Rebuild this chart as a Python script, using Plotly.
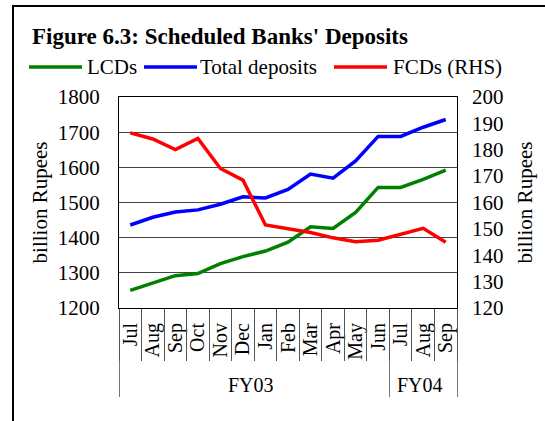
import plotly.graph_objects as go

months = ["Jul", "Aug", "Sep", "Oct", "Nov", "Dec", "Jan", "Feb", "Mar", "Apr", "May", "Jun", "Jul", "Aug", "Sep"]
fiscal_years = ["FY03"] * 12 + ["FY04"] * 3
series_names = ["LCDs", "Total deposits", "FCDs (RHS)"]
series_colors = ["#008000", "#0000ff", "#ff0000"]
lcds = [1250, 1271, 1292, 1298, 1326, 1346, 1362, 1387, 1431, 1426, 1472, 1543, 1543, 1566, 1592]
total_deposits = [1436, 1458, 1473, 1479, 1495, 1516, 1513, 1537, 1581, 1569, 1618, 1688, 1688, 1714, 1736]
fcds = [186.4, 184.1, 180.1, 184.3, 172.9, 168.5, 151.5, 150.1, 148.6, 146.6, 145.1, 145.7, 148.1, 150.2, 144.9]

FONT = "Liberation Serif"
x = [fiscal_years, months]

# plot area in pixels
L, R, T, B = 119, 457, 97, 308
PW, PH = R - L, B - T


def px(v):
    return (v - L) / PW


def py(v):
    return (B - v) / PH


fig = go.Figure()
for vals, name, col, ax in zip([lcds, total_deposits, fcds], series_names, series_colors, ["y", "y", "y2"]):
    fig.add_trace(go.Scatter(x=x, y=vals, name=name, mode="lines", yaxis=ax,
                             line=dict(color=col, width=3.5), showlegend=False))
# invisible trace carrying the boundary-tick axis
fig.add_trace(go.Scatter(x=[0], y=[1500], xaxis="x2", mode="markers",
                         marker=dict(opacity=0), showlegend=False, hoverinfo="skip"))

shapes = [dict(type="rect", xref="paper", yref="paper",
               x0=px(13), x1=px(560), y0=py(440), y1=py(6),
               line=dict(color="black", width=2), fillcolor="rgba(0,0,0,0)", layer="below")]
annotations = []
legend_x = [(29, 82, 87), (144, 197, 200), (334, 387, 393)]
for (a, b, t), name, col in zip(legend_x, series_names, series_colors):
    shapes.append(dict(type="line", xref="paper", yref="paper", x0=px(a), x1=px(b),
                       y0=py(67), y1=py(67), line=dict(color=col, width=3.5)))
    annotations.append(dict(text=name, xref="paper", yref="paper", x=px(t - 2), y=py(67),
                            xanchor="left", yanchor="middle", showarrow=False,
                            font=dict(family=FONT, size=21, color="black")))

fig.update_layout(
    width=545, height=421,
    margin=dict(l=L, r=545 - R, t=T, b=421 - B),
    paper_bgcolor="white", plot_bgcolor="white",
    font=dict(family=FONT, size=19, color="black"),
    title=dict(text="<b>Figure 6.3: Scheduled Banks' Deposits</b>",
               x=32 / 545, xanchor="left", y=1 - 36 / 421, yanchor="middle",
               font=dict(family=FONT, size=23, color="black")),
    showlegend=False,
    xaxis=dict(type="multicategory", range=[-0.5, 14.5], showline=True, linecolor="black",
               linewidth=1, mirror=True, ticks="", tickangle=-90, showgrid=False, nticks=30,
               showdividers=True, dividercolor="#777777", dividerwidth=1,
               ticklabelstandoff=6,
               tickfont=dict(family=FONT, size=20)),
    xaxis2=dict(overlaying="x", side="bottom", range=[-0.5, 14.5], showgrid=False,
                tickmode="array", tickvals=[i - 0.5 for i in range(16)],
                ticks="outside", ticklen=52, tickcolor="#555555", tickwidth=1,
                showticklabels=False, zeroline=False, showline=False),
    yaxis=dict(range=[1200, 1800], dtick=100, showline=True, linecolor="black",
               mirror=True, showgrid=True, gridcolor="#444444", gridwidth=1,
               ticks="", ticklabelstandoff=14,
               title=dict(text="billion Rupees", font=dict(family=FONT, size=21), standoff=4),
               tickfont=dict(family=FONT, size=21), zeroline=False),
    yaxis2=dict(range=[120, 200], dtick=10, overlaying="y", side="right", showgrid=False,
                ticks="", ticklabelstandoff=14,
                title=dict(text="billion Rupees", font=dict(family=FONT, size=21), standoff=14),
                tickfont=dict(family=FONT, size=21), zeroline=False),
    shapes=shapes,
    annotations=annotations,
)

fig.write_html("out.html", config={"displayModeBar": False},
               post_script="document.body.style.margin='0';document.body.style.overflow='hidden';")
